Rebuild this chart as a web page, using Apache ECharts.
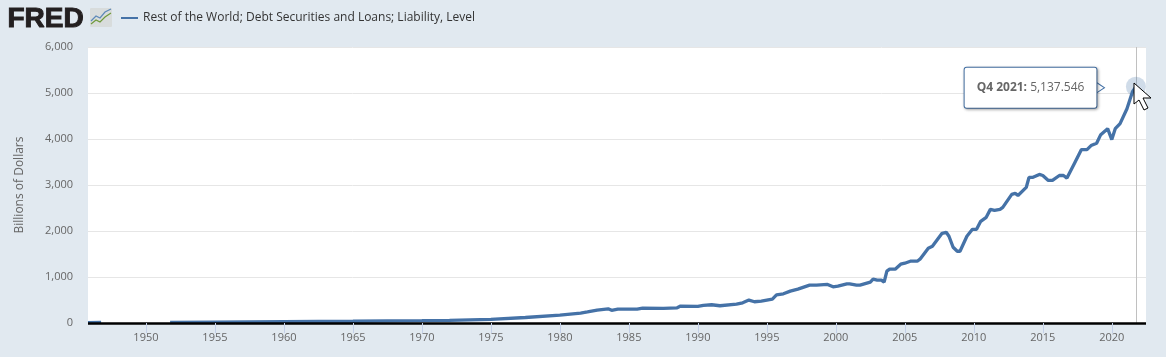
<!DOCTYPE html>
<html>
<head>
<meta charset="utf-8">
<style>html,body{margin:0;padding:0;background:#e1e9f0}#chart{width:1166px;height:357px}</style>
<script src="https://cdn.jsdelivr.net/npm/echarts@6/dist/echarts.min.js"></script>
</head>
<body>
<div id="chart"></div>
<script>
const seriesName = "Rest of the World; Debt Securities and Loans; Liability, Level";
const axisName = "Billions of Dollars";
const tickYears = [1950,1955,1960,1965,1970,1975,1980,1985,1990,1995,2000,2005,2010,2015,2020];
const lastLabel = "Q4 2021:";

const years = [1945.8,1946.75,1947,1951.75,1955,1960,1965,1970,1972,1975,1977.5,1980,1981.5,1982,1982.7,1983.5,1983.75,1984.2,1985.6,1986,1987.5,1988.5,1988.75,1990,1990.4,1991,1991.6,1992.8,1993.25,1993.7,1994.1,1994.6,1995.4,1995.7,1996.2,1996.7,1997.25,1998.1,1998.6,1999.4,1999.8,2000.15,2000.8,2001,2001.5,2001.75,2002.25,2002.5,2002.7,2003,2003.3,2003.5,2003.7,2003.9,2004.3,2004.7,2005,2005.4,2005.9,2006.1,2006.7,2007,2007.7,2008,2008.2,2008.5,2008.8,2009,2009.5,2009.9,2010.2,2010.5,2010.9,2011.2,2011.5,2011.9,2012.1,2012.75,2013,2013.2,2013.8,2014,2014.25,2014.75,2015,2015.4,2015.7,2016.2,2016.5,2016.75,2017.3,2017.8,2018.2,2018.5,2018.9,2019.2,2019.7,2020,2020.25,2020.6,2021.1,2021.5,2021.75];
const values = [10,12,null,15,20,28,38,50,58,80,120,170,216,240,280,308,275,303,303,325,317,330,368,362,384,397,375,412,440,498,462,477,520,613,635,693,737,823,823,838,786,802,852,852,823,823,867,888,953,932,932,888,1127,1170,1170,1278,1300,1343,1343,1387,1625,1668,1950,1972,1885,1647,1560,1560,1886,2037,2037,2210,2297,2470,2448,2470,2513,2795,2817,2773,2947,3164,3164,3230,3207,3099,3099,3207,3207,3150,3474,3770,3770,3857,3906,4095,4225,3987,4225,4333,4658,5027,5137.546];

const lastIndex = years.length - 1;
const lastCoord = [years[lastIndex], values[lastIndex]];
const lastValue = values[lastIndex].toLocaleString("en-US", { minimumFractionDigits: 3 });
const fontFamily = "'Open Sans', sans-serif";
const chart = echarts.init(document.getElementById("chart"));

chart.setOption({
    animation: false,
    backgroundColor: "#e1e9f0",
    textStyle: { fontFamily },
    grid: { left: 88, right: 20, top: 47, bottom: 34, show: true, backgroundColor: "#fff", borderWidth: 0 },
    legend: {
        left: 116, top: 7,
        itemWidth: 17, itemHeight: 2,
        icon: "rect",
        selectedMode: false,
        textStyle: { color: "#333", fontSize: 12, fontFamily },
        data: [seriesName]
    },
    xAxis: {
        type: "value",
        min: 1945.8,
        max: 2022.48,
        splitLine: { show: false },
        axisLine: { show: true, onZero: false, lineStyle: { color: "#000", width: 2.5, cap: "butt" } },
        axisTick: { show: true, customValues: tickYears, length: 10, lineStyle: { color: "#c4d0e8" } },
        axisLabel: { customValues: tickYears, color: "#666", fontSize: 11, margin: 9, formatter: v => String(v) },
        z: 5
    },
    yAxis: {
        type: "value",
        min: 0, max: 6000, interval: 1000,
        name: axisName,
        nameLocation: "middle",
        nameGap: 62,
        nameTextStyle: { color: "#666", fontSize: 12 },
        axisLine: { show: false },
        axisTick: { show: false },
        axisLabel: { color: "#666", fontSize: 11, margin: 15 },
        splitLine: { lineStyle: { color: "#e6e6e6" } }
    },
    series: [{
        name: seriesName,
        type: "line",
        data: years.map((y, i) => [y, values[i]]),
        showSymbol: false,
        connectNulls: false,
        itemStyle: { color: "#4572a7" },
        lineStyle: { color: "#4572a7", width: 3.3 },
        markLine: {
            silent: true,
            symbol: "none",
            label: { show: false },
            lineStyle: { color: "#c0c0c0", width: 1, type: "solid" },
            data: [{ xAxis: years[lastIndex] }]
        },
        markPoint: {
            silent: true,
            label: { show: false },
            data: [
                // halo on the last point
                { coord: lastCoord, symbol: "circle", symbolSize: 20, itemStyle: { color: "rgba(69,114,167,.25)" } },
                // tooltip arrow
                {
                    coord: lastCoord, symbol: "triangle", symbolSize: [12, 9], symbolRotate: -90, symbolOffset: [-36, 1],
                    itemStyle: { color: "#fff", borderColor: "#4572a7", borderWidth: 1 }
                },
                // tooltip box
                {
                    coord: lastCoord, symbol: "circle", symbolSize: 1, itemStyle: { color: "rgba(0,0,0,0)" },
                    label: {
                        show: true,
                        position: "left",
                        distance: 39,
                        offset: [0, 1],
                        formatter: `{b|${lastLabel}} {v|${lastValue}}`,
                        backgroundColor: "#fff",
                        borderColor: "#4572a7",
                        borderWidth: 1,
                        borderRadius: 2,
                        padding: [14, 12],
                        shadowColor: "rgba(0,0,0,.3)",
                        shadowBlur: 3,
                        shadowOffsetX: 1,
                        shadowOffsetY: 1,
                        rich: {
                            b: { color: "#666", fontSize: 12, fontWeight: "bold", fontFamily },
                            v: { color: "#666", fontSize: 12, fontFamily }
                        }
                    }
                }
            ]
        }
    }],
    graphic: [
        { type: "text", left: 7, top: 5, style: { text: "FRED", fill: "#231f20", stroke: "#231f20", lineWidth: 1, font: "900 28px 'Liberation Sans', sans-serif" } },
        { type: "rect", left: 90, top: 8, shape: { width: 22, height: 19, r: 1 }, style: { fill: "#d8dcdc" } },
        { type: "polyline", shape: { points: [[91, 24], [96, 20], [100, 22], [105, 17], [111, 13]] }, style: { stroke: "#6f9a3c", lineWidth: 1.2, fill: "none" } },
        { type: "polyline", shape: { points: [[91, 21], [96, 16], [100, 18], [105, 12], [111, 9]] }, style: { stroke: "#5c88b8", lineWidth: 1.2, fill: "none" } },
        { type: "polygon", z: 100, shape: { points: [[1134, 83], [1134, 104], [1139, 100], [1144, 110], [1148, 108], [1143, 98], [1151, 98]] }, style: { fill: "#fff", stroke: "#000", lineWidth: 1 } }
    ]
});
</script>
</body>
</html>
